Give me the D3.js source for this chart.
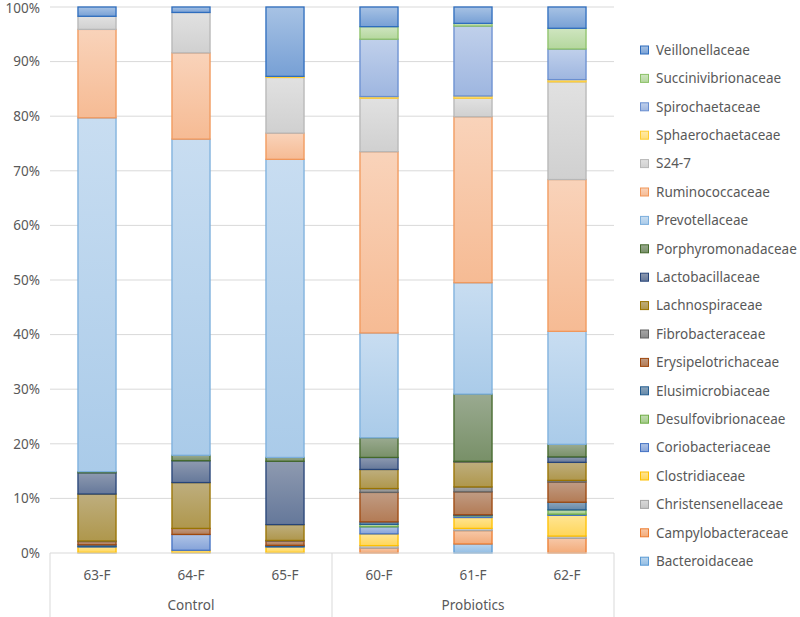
<!DOCTYPE html>
<html>
<head>
<meta charset="utf-8">
<script src="https://cdn.jsdelivr.net/npm/d3@7"></script>
<style>
  body { margin: 0; background: #fff; }
  text { font-family: "Noto Sans", "Open Sans", sans-serif; fill: #595959; }
</style>
</head>
<body>
<script>
const families = [
  "Bacteroidaceae", "Campylobacteraceae", "Christensenellaceae", "Clostridiaceae",
  "Coriobacteriaceae", "Desulfovibrionaceae", "Elusimicrobiaceae", "Erysipelotrichaceae",
  "Fibrobacteraceae", "Lachnospiraceae", "Lactobacillaceae", "Porphyromonadaceae",
  "Prevotellaceae", "Ruminococcaceae", "S24-7", "Sphaerochaetaceae",
  "Spirochaetaceae", "Succinivibrionaceae", "Veillonellaceae"
];
const samples = ["63-F", "64-F", "65-F", "60-F", "61-F", "62-F"];
const groups = [
  { name: "Control", samples: ["63-F", "64-F", "65-F"] },
  { name: "Probiotics", samples: ["60-F", "61-F", "62-F"] }
];
const yTicks = [0, 0.1, 0.2, 0.3, 0.4, 0.5, 0.6, 0.7, 0.8, 0.9, 1];

// percent per family, one array per sample (same order as families)
const s63F = [0, 0, 0.1, 1.0, 0.1, 0, 0.3, 0.6, 0.1, 8.6, 3.9, 0.2, 64.8, 16.2, 2.4, 0, 0, 0, 1.7];
const s64F = [0, 0, 0.1, 0.4, 2.9, 0, 0, 1.1, 0, 8.4, 4.0, 1.0, 57.9, 15.8, 7.4, 0, 0, 0, 1.0];
const s65F = [0, 0, 0.1, 1.0, 0.1, 0, 0.2, 0.8, 0.1, 2.9, 11.6, 0.7, 54.6, 4.8, 10.2, 0.2, 0, 0, 12.7];
const s60F = [0, 0.9, 0.45, 2.15, 1.3, 0.45, 0.45, 5.4, 0.7, 3.5, 2.2, 3.6, 19.2, 33.2, 9.8, 0.3, 10.5, 2.3, 3.6];
const s61F = [1.65, 2.45, 0.4, 2.0, 0.3, 0.1, 0.1, 4.2, 0.9, 4.6, 0.1, 12.3, 20.4, 30.4, 3.4, 0.4, 12.8, 0.5, 3.0];
const s62F = [0, 2.7, 0.4, 3.8, 0.2, 0.8, 1.4, 3.7, 0.3, 3.3, 1.0, 2.3, 20.7, 27.8, 17.9, 0.4, 5.6, 3.8, 3.9];
const sampleValues = [s63F, s64F, s65F, s60F, s61F, s62F];

const colors = [
  "#5B9BD5", "#ED7D31", "#A5A5A5", "#FFC000", "#4472C4", "#70AD47",
  "#255E91", "#9E480E", "#636363", "#997300", "#264478", "#43682B",
  "#7CAFDD", "#F1975A", "#B7B7B7", "#FFCD33", "#698ED0", "#8CC168", "#2E6DBE"
];
// the darker accents get a greyer tint
const darkSeries = [6, 7, 8, 9, 10, 11];

const table = samples.map((s, i) => {
  const row = { sample: s };
  families.forEach((f, j) => row[f] = sampleValues[i][j]);
  return row;
});

const width = 800, height = 617;
const plot = { left: 50, right: 614, top: 7, bottom: 553 };

const svg = d3.select("body").append("svg")
  .attr("width", width)
  .attr("height", height);

// gradients, one per family
const defs = svg.append("defs");
families.forEach((f, i) => {
  const target = darkSeries.includes(i) ? "#d9d9d9" : "#fff";
  const g = defs.append("linearGradient")
    .attr("id", "grad" + i)
    .attr("x1", 0).attr("y1", 0).attr("x2", 0).attr("y2", 1);
  g.append("stop").attr("offset", "0%").attr("stop-color", d3.interpolateRgb(colors[i], target)(0.58));
  g.append("stop").attr("offset", "100%").attr("stop-color", d3.interpolateRgb(colors[i], target)(0.35));
});

const x = d3.scaleBand().domain(samples).range([plot.left, plot.right]).padding(0);
const y = d3.scaleLinear().domain([0, 1]).range([plot.bottom, plot.top]);
const barW = x.bandwidth() * 0.405;

const stack = d3.stack().keys(families).offset(d3.stackOffsetExpand);
const layers = stack(table);

// gridlines
svg.append("g")
  .selectAll("line")
  .data(yTicks.slice(1))
  .join("line")
  .attr("x1", plot.left).attr("x2", plot.right)
  .attr("y1", d => y(d)).attr("y2", d => y(d))
  .attr("stroke", "#D9D9D9")
  .attr("stroke-width", 1);

// y axis labels
svg.append("g")
  .selectAll("text")
  .data(yTicks)
  .join("text")
  .attr("x", 40)
  .attr("y", d => y(d) + (d === 1 ? 1.5 : 0))
  .attr("dy", "0.35em")
  .attr("text-anchor", "end")
  .style("font-size", "13.5px")
  .text(d3.format(".0%"));

// bars
svg.append("g")
  .selectAll("g")
  .data(layers)
  .join("g")
  .attr("fill", (d, i) => "url(#grad" + i + ")")
  .attr("stroke", (d, i) => colors[i])
  .selectAll("rect")
  .data(d => d.filter(p => p[1] - p[0] > 0))
  .join("rect")
  .attr("x", d => x(d.data.sample) + (x.bandwidth() - barW) / 2)
  .attr("y", d => y(d[1]))
  .attr("width", barW)
  .attr("height", d => y(d[0]) - y(d[1]))
  .attr("stroke-width", 1.3);

// category axis
const axis = svg.append("g");
axis.append("line")
  .attr("x1", plot.left).attr("x2", plot.right)
  .attr("y1", plot.bottom).attr("y2", plot.bottom)
  .attr("stroke", "#D9D9D9");

const sepX = [plot.left].concat(groups.map(g => x(g.samples[g.samples.length - 1]) + x.bandwidth()));
axis.selectAll(".sep")
  .data(sepX)
  .join("line")
  .attr("class", "sep")
  .attr("x1", d => d).attr("x2", d => d)
  .attr("y1", plot.bottom).attr("y2", height)
  .attr("stroke", "#D9D9D9");

axis.selectAll(".tick")
  .data(samples)
  .join("text")
  .attr("class", "tick")
  .attr("x", d => x(d) + x.bandwidth() / 2)
  .attr("y", 580)
  .attr("text-anchor", "middle")
  .style("font-size", "13.5px")
  .text(d => d);

axis.selectAll(".grp")
  .data(groups)
  .join("text")
  .attr("class", "grp")
  .attr("x", d => (x(d.samples[0]) + x(d.samples[d.samples.length - 1]) + x.bandwidth()) / 2)
  .attr("y", 610)
  .attr("text-anchor", "middle")
  .style("font-size", "13.5px")
  .text(d => d.name);

// legend, reversed order
const legend = svg.append("g")
  .selectAll("g")
  .data(families.slice().reverse())
  .join("g")
  .attr("transform", (d, i) => "translate(640," + (50 + i * 28.4) + ")");

legend.append("rect")
  .attr("x", 0.5).attr("y", -4)
  .attr("width", 8).attr("height", 8)
  .attr("fill", d => "url(#grad" + families.indexOf(d) + ")")
  .attr("stroke", d => colors[families.indexOf(d)]);

legend.append("text")
  .attr("x", 16)
  .attr("y", 0)
  .attr("dy", "0.35em")
  .style("font-size", "13.5px")
  .text(d => d);
</script>
</body>
</html>
